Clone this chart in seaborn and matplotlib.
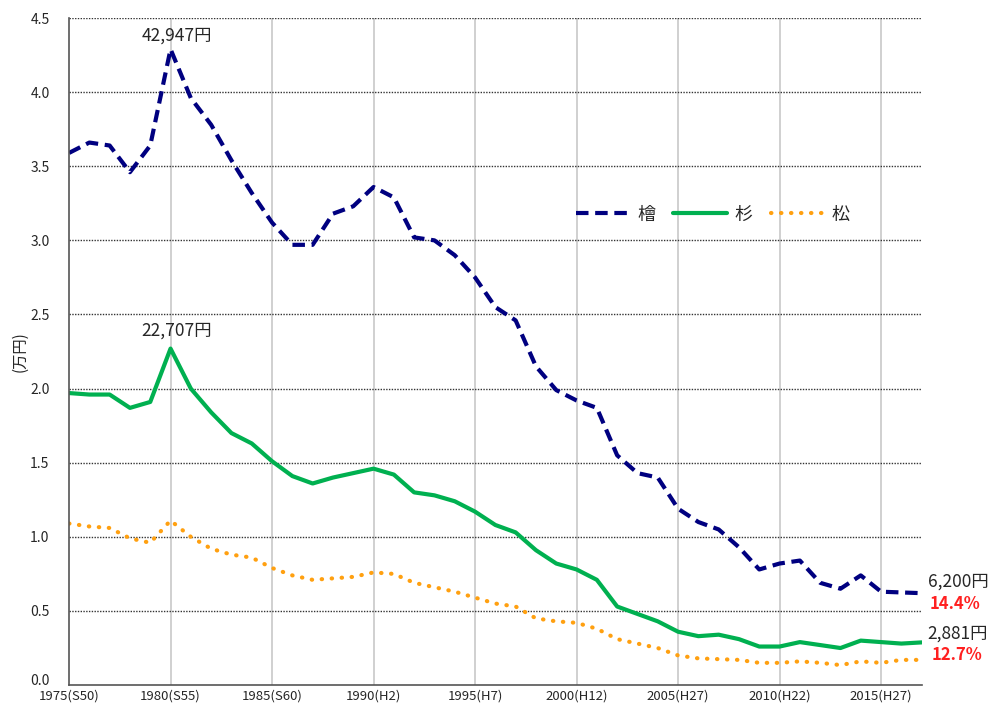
import numpy as np
import pandas as pd
import seaborn as sns
import matplotlib.pyplot as plt
import matplotlib.transforms as mtrans

years = list(range(1975, 2018))

# 檜 (万円/m3)
hinoki = [3.59, 3.66, 3.64, 3.46, 3.64, 4.29, 3.96, 3.78, 3.54, 3.32,
          3.12, 2.97, 2.97, 3.18, 3.23, 3.36, 3.29, 3.02, 3.00, 2.90,
          2.75, 2.55, 2.46, 2.15, 1.99, 1.92, 1.87, 1.55, 1.43, 1.40,
          1.19, 1.10, 1.05, 0.93, 0.78, 0.82, 0.84, 0.69, 0.65, 0.74,
          0.63, 0.625, 0.62]
# 杉
sugi = [1.97, 1.96, 1.96, 1.87, 1.91, 2.27, 2.00, 1.84, 1.70, 1.63,
        1.51, 1.41, 1.36, 1.40, 1.43, 1.46, 1.42, 1.30, 1.28, 1.24,
        1.17, 1.08, 1.03, 0.91, 0.82, 0.78, 0.71, 0.53, 0.48, 0.43,
        0.36, 0.33, 0.34, 0.31, 0.26, 0.26, 0.29, 0.27, 0.25, 0.30,
        0.29, 0.28, 0.288]
# 松
matsu = [1.09, 1.07, 1.06, 0.99, 0.96, 1.11, 1.00, 0.92, 0.88, 0.86,
         0.79, 0.74, 0.71, 0.72, 0.73, 0.76, 0.75, 0.69, 0.66, 0.63,
         0.59, 0.55, 0.53, 0.45, 0.43, 0.42, 0.38, 0.31, 0.28, 0.25,
         0.20, 0.18, 0.175, 0.17, 0.15, 0.15, 0.16, 0.15, 0.135, 0.16,
         0.15, 0.17, 0.17]

tick_years = [1975, 1980, 1985, 1990, 1995, 2000, 2005, 2010, 2015]
tick_labels = ['1975(S50)', '1980(S55)', '1985(S60)', '1990(H2)', '1995(H7)',
               '2000(H12)', '2005(H27)', '2010(H22)', '2015(H27)']

sns.set_style('white')
plt.rcParams['font.family'] = ['Noto Sans CJK JP', 'DejaVu Sans']

fig = plt.figure(figsize=(9.92, 7.07), dpi=100)
ax = fig.add_axes([0.0696, 0.031, 0.8595, 0.9435])

df = pd.DataFrame({'year': years, '檜': hinoki, '杉': sugi, '松': matsu})

sns.lineplot(data=df, x='year', y='檜', ax=ax, color='#000080', lw=3,
             linestyle=(0, (3, 1.6)), label='檜')
sns.lineplot(data=df, x='year', y='杉', ax=ax, color='#00b050', lw=3,
             label='杉')
sns.lineplot(data=df, x='year', y='松', ax=ax, color='#ffa010', lw=3,
             linestyle=(0, (0.1, 2.3)), dash_capstyle='round', label='松')

ax.set_xlim(1975, 2017)
ax.set_ylim(0, 4.5)
ax.set_xticks(tick_years)
ax.set_xticklabels(tick_labels)
ax.set_yticks(np.arange(0, 4.51, 0.5))
ax.set_yticklabels([f'{v:.1f}' for v in np.arange(0, 4.51, 0.5)])
ax.tick_params(axis='x', labelsize=9.5, length=0, pad=3)
ax.tick_params(axis='y', labelsize=10, length=0, pad=14)
ax.set_xlabel('')
ax.set_ylabel('(万円)', fontsize=11, labelpad=1)

# nudge the 0.0 label up so it clears the first year label
lab0 = ax.get_yticklabels()[0]
lab0.set_transform(lab0.get_transform() + mtrans.ScaledTranslation(0, 4 / 72, fig.dpi_scale_trans))

for v in np.arange(0.5, 4.51, 0.5):
    ax.axhline(v, color='#333333', lw=1, linestyle=(0, (1, 1)), zorder=1)
for x in tick_years[1:]:
    ax.axvline(x, color='#c8c8c8', lw=1.2, zorder=0)

for s in ['top', 'right']:
    ax.spines[s].set_visible(False)
for s in ['left', 'bottom']:
    ax.spines[s].set_color('#555555')
    ax.spines[s].set_linewidth(1.2)

ax.text(1980.3, 4.32, '42,947円', fontsize=12.5, ha='center', va='bottom')
ax.text(1980.3, 2.33, '22,707円', fontsize=12.5, ha='center', va='bottom')
ax.text(2017.3, 0.70, '6,200円', fontsize=12.5, ha='left', va='center', clip_on=False)
ax.text(2017.4, 0.55, '14.4%', fontsize=12, ha='left', va='center', color='#ff2020',
        fontweight='bold', clip_on=False)
ax.text(2017.3, 0.35, '2,881円', fontsize=12.5, ha='left', va='center', clip_on=False)
ax.text(2017.5, 0.20, '12.7%', fontsize=12, ha='left', va='center', color='#ff2020',
        fontweight='bold', clip_on=False)

ax.legend(loc='center', bbox_to_anchor=(0.755, 0.705), ncol=3, frameon=False,
          fontsize=13, handlelength=3.0, columnspacing=1.0, handletextpad=0.4)

fig.savefig('out.png', dpi=100)
